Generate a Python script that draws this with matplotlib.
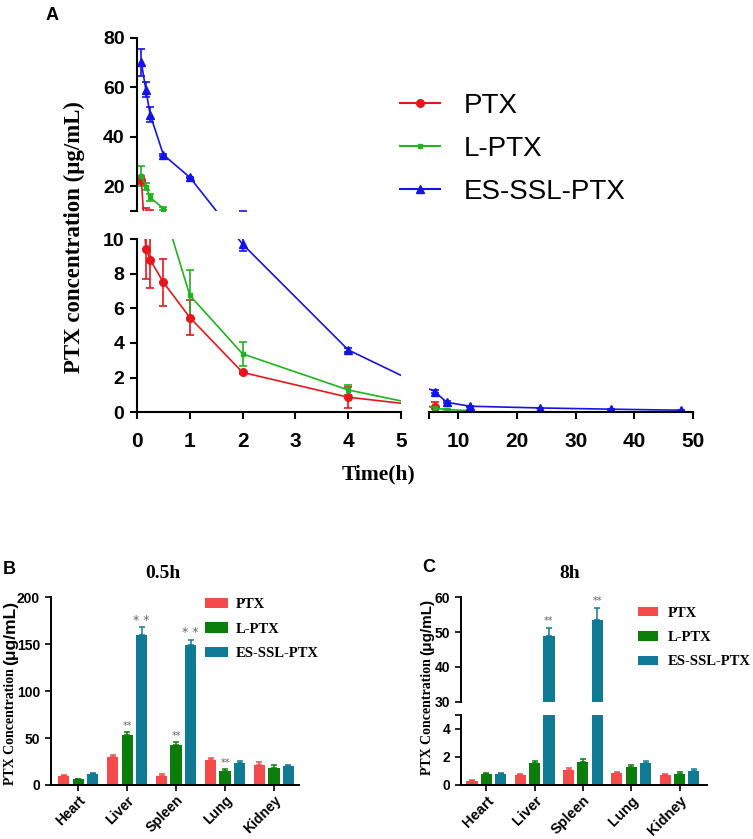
import numpy as np
import matplotlib
matplotlib.use("Agg")
import matplotlib.pyplot as plt
from matplotlib.lines import Line2D

# ---------------- data: panel A (plasma PK) ----------------
series_names = ["PTX", "L-PTX", "ES-SSL-PTX"]
t_ptx = [0.083, 0.167, 0.25, 0.5, 1, 2, 4, 6]
c_ptx = [22.5, 9.45, 8.8, 7.5, 5.47, 2.3, 0.87, 0.3]
e_ptx = [1.7, 1.75, 1.6, 1.35, 1.03, 0.1, 0.6, 0.28]

t_lptx = [0.083, 0.167, 0.25, 0.5, 1, 2, 4, 6, 8, 12]
c_lptx = [24.2, 19.8, 15.5, 11.0, 6.75, 3.37, 1.29, 0.25, 0.15, 0.1]
e_lptx = [4.0, 1.5, 1.5, 0.5, 1.45, 0.7, 0.3, 0.05, 0.03, 0.03]

t_ssl = [0.083, 0.167, 0.25, 0.5, 1, 2, 4, 6, 8, 12, 24, 36, 48]
c_ssl = [70, 59, 48.9, 32.7, 23.6, 9.7, 3.6, 1.19, 0.58, 0.35, 0.25, 0.18, 0.12]
e_ssl = [5.5, 3.0, 3.0, 0.3, 0.3, 0.38, 0.1, 0.1, 0.05, 0.03, 0.02, 0.02, 0.02]

# ---------------- data: panels B and C (tissue distribution) ----------------
organs = ["Heart", "Liver", "Spleen", "Lung", "Kidney"]
b_ptx = [9.8, 29.8, 10.0, 26.8, 21.0]
b_ptx_err = [1.0, 2.2, 1.2, 2.0, 3.0]
b_lptx = [6.2, 53.6, 42.8, 15.3, 17.8]
b_lptx_err = [0.5, 3.0, 3.0, 2.0, 3.0]
b_ssl = [11.8, 160.2, 149.5, 23.2, 19.8]
b_ssl_err = [1.0, 8.0, 5.5, 2.5, 1.5]
b_stars_lptx = ["", "**", "**", "**", ""]
b_stars_ssl = ["", "* *", "* *", "", ""]

c_ptx8 = [0.3, 0.72, 1.1, 0.88, 0.71]
c_ptx8_err = [0.05, 0.05, 0.15, 0.05, 0.08]
c_lptx8 = [0.79, 1.57, 1.64, 1.3, 0.78]
c_lptx8_err = [0.06, 0.15, 0.2, 0.1, 0.17]
c_ssl8 = [0.78, 48.75, 53.6, 1.55, 1.02]
c_ssl8_err = [0.05, 2.5, 3.2, 0.18, 0.13]
c_stars_ssl = ["", "**", "**", "", ""]

# ---------------- styling ----------------
W, H = 753, 839
SANS = "Liberation Sans"
SERIF = "Liberation Serif"
line_colors = ["#E8161B", "#1FB31F", "#1414E6"]
line_markers = ["o", "s", "^"]
line_ms = [5.5, 3.2, 6.0]
bar_colors = ["#F54A4A", "#0A7D0A", "#107A94"]

fig = plt.figure(figsize=(W / 100, H / 100), dpi=100)


def rect(l, t, r, b):
    return [l / W, 1 - b / H, (r - l) / W, (b - t) / H]


# ---------------- Panel A: broken axes via a piecewise (function) scale ----------------
D = 1e-6
XP = [-10, 0, 5, 5 + D, 50, 150]
UP = [-528, 0, 264, 292, 556, 556 + 100 * 5.867]
YP = [-10, 0, 10, 10 + D, 80, 300]
VP = [-173.3, 0, 173.3, 201.3, 374.6, 374.6 + 220 * 2.476]


def fx(x):
    return np.interp(x, XP, UP)


def ix(u):
    return np.interp(u, UP, XP)


def fy(y):
    return np.interp(y, YP, VP)


def iy(v):
    return np.interp(v, VP, YP)


ax_ul = fig.add_axes(rect(137, 37.7, 401, 211))
ax_ll = fig.add_axes(rect(137, 239, 401, 412.3))
ax_lr = fig.add_axes(rect(429, 239, 693, 412.3))

series = [(t_ptx, c_ptx, e_ptx), (t_lptx, c_lptx, e_lptx), (t_ssl, c_ssl, e_ssl)]
for ax in (ax_ul, ax_ll, ax_lr):
    ax.set_xscale("function", functions=(fx, ix))
    ax.set_yscale("function", functions=(fy, iy))
    ax.patch.set_alpha(0)
    for (t, c, e), col, mk, ms in zip(series, line_colors, line_markers, line_ms):
        ax.errorbar(t, c, yerr=e, color=col, marker=mk, ms=ms, lw=1.2,
                    elinewidth=1.2, capsize=3, capthick=1.2, mec=col, mfc=col)
    for s in ("top", "right"):
        ax.spines[s].set_visible(False)
    for s in ax.spines.values():
        s.set_linewidth(1.5)
    ax.tick_params(width=1.5, length=5, direction="out")

ax_ul.set_xlim(0, 5)
ax_ul.set_ylim(10 + D, 80)
ax_ul.spines["bottom"].set_visible(False)
ax_ul.set_xticks([])
ax_ul.set_yticks([10 + D, 20, 40, 60, 80])
ax_ul.set_yticklabels(["", "20", "40", "60", "80"])

ax_ll.set_xlim(0, 5)
ax_ll.set_ylim(0, 10)
ax_ll.set_xticks([0, 1, 2, 3, 4, 5])
ax_ll.set_xticklabels(["0", "1", "2", "3", "4", "5"])
ax_ll.set_yticks([0, 2, 4, 6, 8, 10])
ax_ll.set_yticklabels(["0", "2", "4", "6", "8", "10"])

ax_lr.set_xlim(5 + D, 50)
ax_lr.set_ylim(0, 10)
ax_lr.spines["left"].set_visible(False)
ax_lr.set_yticks([])
ax_lr.set_xticks([5 + D, 10, 20, 30, 40, 50])
ax_lr.set_xticklabels(["", "10", "20", "30", "40", "50"])

for ax in (ax_ul, ax_ll):
    ax.tick_params(axis="y", labelsize=14, pad=4)
    for lab in ax.get_yticklabels():
        lab.set_fontfamily(SANS)
        lab.set_fontweight("bold")
for ax in (ax_ll, ax_lr):
    ax.tick_params(axis="x", labelsize=15, pad=9)
    for lab in ax.get_xticklabels():
        lab.set_fontfamily(SANS)
        lab.set_fontweight("bold")

fig.text(74 / W, 1 - 237 / H, "PTX concentration (μg/mL)", rotation=90,
         ha="center", va="center", fontsize=16.5, fontweight="bold", family=SERIF)
fig.text(379 / W, 1 - 474 / H, "Time(h)", ha="center", va="center",
         fontsize=15.5, fontweight="bold", family=SERIF)
fig.text(52 / W, 1 - 15 / H, "A", ha="center", va="center", fontsize=13,
         fontweight="bold", family=SANS)

handles = [Line2D([], [], color=c, marker=m, ms=s, lw=1.5, mfc=c, mec=c)
           for c, m, s in zip(line_colors, line_markers, line_ms)]
fig.legend(handles, series_names, loc="upper left",
           bbox_to_anchor=(400 / W, 1 - 93 / H), frameon=False,
           prop={"family": SANS, "size": 20}, handlelength=1.45,
           handletextpad=0.85, labelspacing=0.61, borderpad=0, borderaxespad=0)

# ---------------- Panels B and C ----------------
offsets = [-0.2965, 0.0, 0.2965]
bw = 0.231
xg = np.arange(len(organs))


def style_bar_axes(ax):
    for s in ("top", "right"):
        ax.spines[s].set_visible(False)
    for s in ax.spines.values():
        s.set_linewidth(1.4)
    ax.tick_params(width=1.2, length=4, labelsize=10)
    for lab in ax.get_yticklabels():
        lab.set_fontfamily(SANS)
        lab.set_fontweight("bold")


def draw_bars(ax, groups, with_err=True):
    conts = []
    for off, (vals, errs), col in zip(offsets, groups, bar_colors):
        kw = {}
        if with_err:
            kw = dict(yerr=(np.zeros(len(vals)), errs),
                      error_kw=dict(ecolor=col, elinewidth=1.1, capsize=2.5, capthick=1.1))
        conts.append(ax.bar(xg + off, vals, width=bw, color=col, **kw))
    return conts


def xlabels(ax):
    ax.set_xticks(xg)
    ax.set_xticklabels(organs, rotation=45, ha="right", rotation_mode="anchor",
                       fontsize=10.5, fontweight="bold", family=SANS)
    ax.tick_params(axis="x", pad=2)


def mixed_ylabel(x_px, y0_px, size_serif, size_sans):
    r = fig.canvas.get_renderer()
    t1 = fig.text(x_px / W, 1 - y0_px / H, "PTX Concentration", rotation=90,
                  rotation_mode="anchor", ha="left", va="center",
                  fontsize=size_serif, fontweight="bold", family=SERIF)
    bb = t1.get_window_extent(r)
    fig.text(x_px / W, (bb.y1 + 3) / H, "(μg/mL)", rotation=90,
             rotation_mode="anchor", ha="left", va="center",
             fontsize=size_sans, fontweight="bold", family=SANS)


leg_kw = dict(frameon=False, prop={"family": SERIF, "weight": "bold", "size": 10.5},
              borderpad=0, borderaxespad=0, bbox_transform=fig.transFigure)

# Panel B
axB = fig.add_axes(rect(50.5, 597.3, 299, 785))
contsB = draw_bars(axB, [(b_ptx, b_ptx_err), (b_lptx, b_lptx_err), (b_ssl, b_ssl_err)])
axB.set_xlim(-0.569, 4.513)
axB.set_ylim(0, 200)
axB.set_yticks([0, 50, 100, 150, 200])
xlabels(axB)
style_bar_axes(axB)
for i, s in enumerate(b_stars_lptx):
    if s:
        axB.text(xg[i], b_lptx[i] + b_lptx_err[i] + 1, s, ha="center", va="bottom",
                 fontsize=7, color="#666666")
for i, s in enumerate(b_stars_ssl):
    if s:
        axB.text(xg[i] + offsets[2], b_ssl[i] + b_ssl_err[i] + 0.5, s, ha="center",
                 va="bottom", fontsize=9, color="#666666")
axB.legend(contsB, series_names, loc="upper left", bbox_to_anchor=(205 / W, 1 - 598 / H),
           handlelength=1.55, handleheight=0.7, handletextpad=0.55,
           labelspacing=0.77, **leg_kw)
fig.text(162.5 / W, 1 - 573 / H, "0.5h", ha="center", va="center", fontsize=14,
         fontweight="bold", family=SERIF)
fig.text(9 / W, 1 - 569 / H, "B", ha="center", va="center", fontsize=13,
         fontweight="bold", family=SANS)
mixed_ylabel(11, 785, 10, 12.5)

# Panel C (broken y axis)
axCl = fig.add_axes(rect(460.7, 715, 706.7, 785))
axCu = fig.add_axes(rect(460.7, 597.3, 706.7, 701.7))
groupsC = [(c_ptx8, c_ptx8_err), (c_lptx8, c_lptx8_err), (c_ssl8, c_ssl8_err)]
draw_bars(axCl, groupsC)
contsC = draw_bars(axCu, groupsC)
for ax in (axCl, axCu):
    ax.set_xlim(-0.53, 4.563)
    style_bar_axes(ax)
    ax.patch.set_alpha(0)
axCl.set_ylim(0, 5)
axCl.set_yticks([0, 2, 4, 5])
axCl.set_yticklabels(["0", "2", "4", ""])
for lab in axCl.get_yticklabels():
    lab.set_fontfamily(SANS)
    lab.set_fontweight("bold")
xlabels(axCl)
axCu.set_ylim(30, 60)
axCu.set_yticks([30, 40, 50, 60])
axCu.spines["bottom"].set_visible(False)
axCu.set_xticks([])
for i, s in enumerate(c_stars_ssl):
    if s:
        axCu.text(xg[i] + offsets[2], c_ssl8[i] + c_ssl8_err[i] + 0.6, s, ha="center",
                  va="bottom", fontsize=7, color="#666666")
axCu.legend(contsC, series_names, loc="upper left", bbox_to_anchor=(638 / W, 1 - 607 / H),
            handlelength=1.35, handleheight=0.6, handletextpad=0.7,
            labelspacing=0.77, **leg_kw)
fig.text(570 / W, 1 - 573 / H, "8h", ha="center", va="center", fontsize=14,
         fontweight="bold", family=SERIF)
fig.text(429 / W, 1 - 568 / H, "C", ha="center", va="center", fontsize=13,
         fontweight="bold", family=SANS)
mixed_ylabel(427, 775, 10, 11)

fig.savefig("out.png", dpi=100)
